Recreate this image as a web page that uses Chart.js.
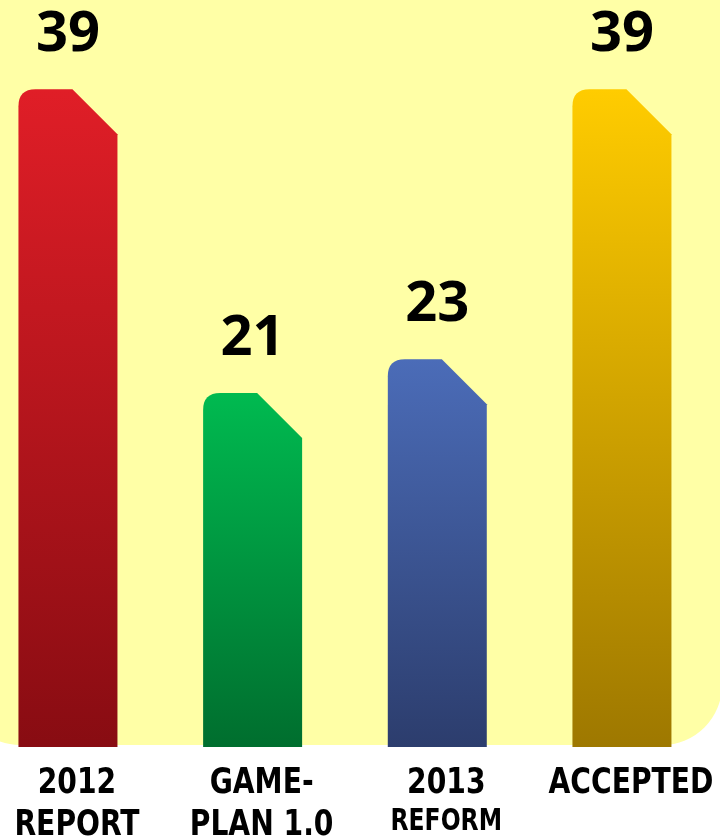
<!DOCTYPE html>
<html>
<head>
<meta charset="utf-8">
<script src="https://cdn.jsdelivr.net/npm/chart.js@4"></script>
<style>
  html, body { margin: 0; padding: 0; background: #fff; }
  #wrap { width: 720px; height: 839px; }
</style>
</head>
<body>
<div id="wrap"><canvas id="barChart"></canvas></div>
<script>
// chart data
var categories = [['2012', 'REPORT'], ['GAME-', 'PLAN 1.0'], ['2013', 'REFORM'], ['ACCEPTED']];
var values = [39, 21, 23, 39];
var topColors = ['#E01E27', '#00BA50', '#4B6CB8', '#FFCC00'];
var bottomColors = ['#880C12', '#006E2E', '#2C3D6D', '#9E7800'];

var panelPlugin = {
    id: 'panel',
    beforeDraw: function(chart) {
        var c = chart.ctx, a = chart.chartArea;
        c.save();
        c.fillStyle = '#fff';
        c.fillRect(0, 0, chart.width, chart.height);
        c.fillStyle = '#FFFFA6';
        c.beginPath();
        c.roundRect(-40, -60, chart.width + 42, a.bottom - 2 + 60, 60);
        c.fill();
        c.restore();
    }
};

var shapePlugin = {
    id: 'shapes',
    afterDatasetsDraw: function(chart) {
        var c = chart.ctx;
        var meta = chart.getDatasetMeta(0);
        meta.data.forEach(function(bar, i) {
            var p = bar.getProps(['x', 'y', 'base', 'width'], true);
            var l = p.x - p.width / 2, r = p.x + p.width / 2;
            var t = p.y, b = p.base;
            var rad = 17, cut = 45;
            var g = c.createLinearGradient(0, t, 0, b);
            g.addColorStop(0, topColors[i]);
            g.addColorStop(1, bottomColors[i]);
            c.save();
            c.fillStyle = g;
            c.beginPath();
            c.moveTo(l, b);
            c.lineTo(l, t + rad);
            c.quadraticCurveTo(l, t, l + rad, t);
            c.lineTo(r - cut, t);
            c.lineTo(r, t + cut);
            c.lineTo(r, b);
            c.closePath();
            c.fill();
            // value on top
            c.fillStyle = '#000';
            c.font = 'bold 56px "Open Sans", sans-serif';
            c.textAlign = 'center';
            c.textBaseline = 'middle';
            c.fillText(values[i], p.x, t - 54);
            c.restore();
        });
    }
};

// category names under the panel, squeezed a bit to look like a narrow bold face
var labelPlugin = {
    id: 'catLabels',
    afterDraw: function(chart) {
        var c = chart.ctx, xs = chart.scales.x, a = chart.chartArea;
        var sx = 0.87;
        c.save();
        c.fillStyle = '#000';
        c.textAlign = 'center';
        c.textBaseline = 'alphabetic';
        c.scale(sx, 1);
        categories.forEach(function(lines, i) {
            var x = xs.getPixelForValue(i) + 9;
            lines.forEach(function(txt, j) {
                var size = (i === 2 && j === 1) ? 30 : 36;
                c.font = 'bold ' + size + 'px "DejaVu Sans Condensed", "DejaVu Sans", sans-serif';
                var y = a.bottom + 46 + j * 42 - (size < 36 ? 5 : 0);
                c.fillText(txt, x / sx, y);
            });
        });
        c.restore();
    }
};

var ctx = document.getElementById('barChart');
var barChart = new Chart(ctx, {
    type: 'bar',
    data: {
        datasets: [{
            data: values.map(function(v, i) { return { x: i, y: v }; }),
            backgroundColor: 'rgba(0,0,0,0)',
            borderWidth: 0,
            barThickness: 99
        }]
    },
    options: {
        responsive: true,
        maintainAspectRatio: false,
        animation: false,
        layout: { padding: { top: 0, left: 0, right: 0, bottom: 92 } },
        scales: {
            x: {
                type: 'linear',
                offset: false,
                min: -0.368,
                max: 3.531,
                display: false
            },
            y: {
                min: 0,
                max: 44.3,
                display: false
            }
        },
        plugins: {
            legend: { display: false },
            title: { display: false },
            tooltip: { enabled: false }
        }
    },
    plugins: [panelPlugin, shapePlugin, labelPlugin]
});
</script>
</body>
</html>
